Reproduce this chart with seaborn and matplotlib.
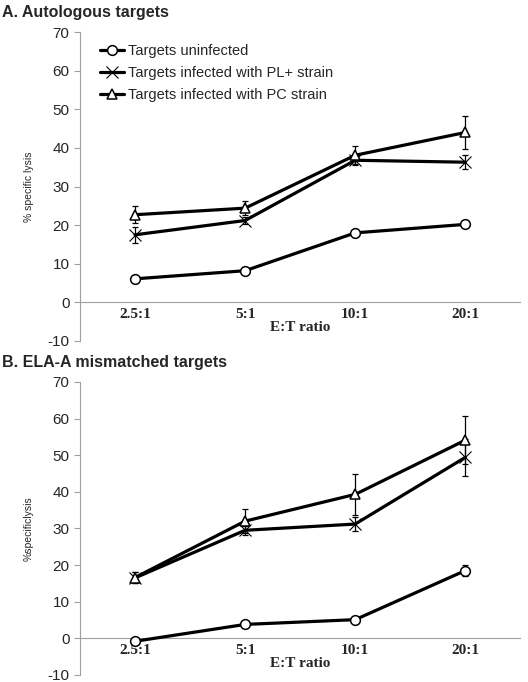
import pandas as pd
import seaborn as sns
import matplotlib.pyplot as plt

#%% data
ratios = ['2.5:1', '5:1', '10:1', '20:1']
series_names = ['Targets uninfected', 'Targets infected with PL+ strain', 'Targets infected with PC strain']

# A. autologous targets
a_uninf = [6.1, 8.2, 18.0, 20.2]
a_uninf_err = [0.4, 0.5, 0.5, 0.5]
a_pl = [17.5, 21.2, 36.8, 36.3]
a_pl_err = [2.1, 1.0, 1.0, 1.8]
a_pc = [22.7, 24.4, 38.1, 44.0]
a_pc_err = [2.2, 1.8, 2.4, 4.2]

# B. ELA-A mismatched targets
b_uninf = [-0.8, 3.8, 5.1, 18.5]
b_uninf_err = [0.3, 0.3, 0.8, 1.5]
b_pl = [16.5, 29.5, 31.2, 49.4]
b_pl_err = [1.5, 1.2, 2.0, 5.0]
b_pc = [16.6, 32.0, 39.3, 54.1]
b_pc_err = [1.5, 3.2, 5.5, 6.6]

#%% style
sns.set_style('white')
plt.rcParams['font.family'] = ['Liberation Sans', 'DejaVu Sans']
plt.rcParams['axes.unicode_minus'] = False

markers = ['o', 'x', '^']
sizes = [7, 9, 7]
edge_w = [1.1, 0.8, 1.1]
grey = '#a0a0a0'


def draw_panel(ax, vals, errs, ylab, legend):
    for name, v, e, m, s, w in zip(series_names, vals, errs, markers, sizes, edge_w):
        ax.errorbar(ratios, v, yerr=e, fmt='none', ecolor='black', elinewidth=0.9,
                    capsize=2.5, capthick=0.9, zorder=1)
        sns.lineplot(x=ratios, y=v, sort=False, color='black', lw=2.3, marker=m, ms=s,
                     markerfacecolor='white', markeredgecolor='black', markeredgewidth=w,
                     label=name if legend else None, ax=ax, zorder=3)
    ax.set_xlim(-0.5, 3.5)
    ax.set_ylim(-10, 70)
    ax.set_yticks(range(-10, 71, 10))
    ax.spines['top'].set_visible(False)
    ax.spines['right'].set_visible(False)
    ax.spines['bottom'].set_position(('data', 0))
    ax.spines['bottom'].set_color(grey)
    ax.spines['left'].set_color(grey)
    ax.tick_params(axis='x', length=0, pad=4)
    ax.tick_params(axis='y', length=4, color=grey, labelsize=11, direction='out', left=True)
    for t in ax.get_xticklabels():
        t.set_fontfamily('Liberation Serif')
        t.set_fontweight('bold')
        t.set_fontsize(11)
    ax.set_xlabel('E:T ratio', family='Liberation Serif', weight='bold', fontsize=11, labelpad=0)
    ax.set_ylabel(ylab, fontsize=7.5)
    ax.yaxis.set_label_coords(-0.105, 0.5)
    if legend:
        ax.legend(loc='upper left', bbox_to_anchor=(0.03, 0.985), frameon=False, fontsize=10.5,
                  handlelength=1.6, handletextpad=0.3, labelspacing=0.55, borderpad=0)
    elif ax.get_legend():
        ax.get_legend().remove()


fig = plt.figure(figsize=(5.28, 6.82), dpi=100)
ax1 = fig.add_axes([0.1515, 0.5, 0.834, 0.453])
ax2 = fig.add_axes([0.1515, 0.0103, 0.834, 0.4297])

draw_panel(ax1, [a_uninf, a_pl, a_pc], [a_uninf_err, a_pl_err, a_pc_err], '% specific lysis', True)
draw_panel(ax2, [b_uninf, b_pl, b_pc], [b_uninf_err, b_pl_err, b_pc_err], '%specificlysis', False)

fig.text(0.004, 1 - 12 / 682, 'A. Autologous targets', weight='bold', fontsize=11.5, va='center')
fig.text(0.004, 1 - 362 / 682, 'B. ELA-A mismatched targets', weight='bold', fontsize=11.5, va='center')

fig.savefig('out.png', dpi=100)
